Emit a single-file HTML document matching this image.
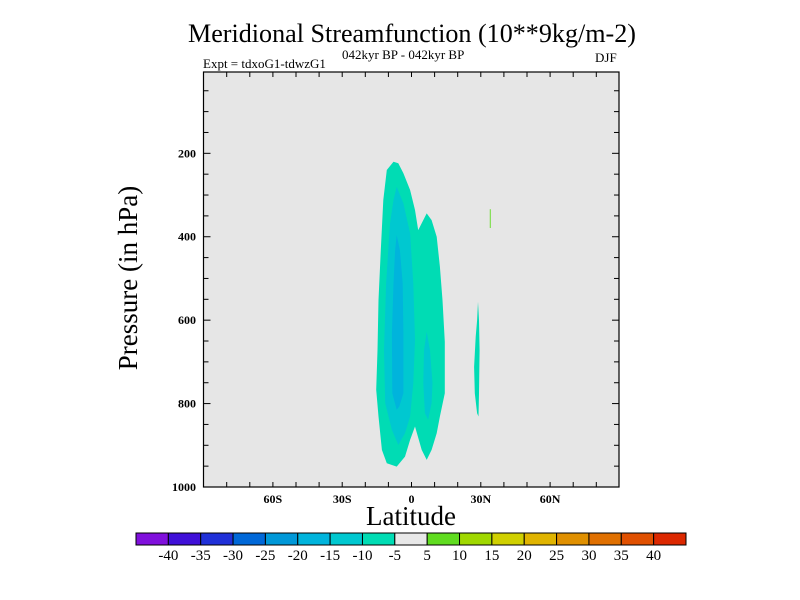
<!DOCTYPE html>
<html><head><meta charset="utf-8">
<style>
html,body{margin:0;padding:0;background:#fff;}
svg{display:block;font-family:"Liberation Serif",serif;}
</style></head>
<body>
<svg id="chart" width="800" height="600" viewBox="0 0 800 600" xmlns="http://www.w3.org/2000/svg">
<text x="412" y="42" text-anchor="middle" font-size="26" textLength="448" lengthAdjust="spacingAndGlyphs">Meridional Streamfunction (10**9kg/m-2)</text>
<text x="203" y="68" font-size="13">Expt = tdxoG1-tdwzG1</text>
<text x="342" y="59" font-size="13">042kyr BP - 042kyr BP</text>
<text x="595" y="62" font-size="13">DJF</text>
<rect x="203.5" y="72" width="415.5" height="415" fill="#e6e6e6"/>
<g id="contours"></g>
<g id="axes"></g>
<text transform="translate(137,278) rotate(-90)" text-anchor="middle" font-size="27">Pressure (in hPa)</text>
<text x="411" y="525" text-anchor="middle" font-size="27">Latitude</text>
<g id="colorbar"></g>
</svg>
<script>
const latTicks=[-60,-30,0,30,60];
const latTickLabels=["60S","30S","0","30N","60N"];
const presTicks=[200,400,600,800,1000];
const cbLevels=[-40,-35,-30,-25,-20,-15,-10,-5,5,10,15,20,25,30,35,40];
const cbColors=["#8010dc","#4010d8","#2030d8","#0068d8","#0098d8","#00b4dc","#00c8d0","#00dcb4","#e8e8e8","#60dc20","#a0d800","#d0d000","#e0b400","#e09000","#e07000","#e05000","#dc2800"];
// contour regions: [lat, pressure] pairs
const outerLat=[-7.8,-5.7,-3.5,-0.6,1.5,2.9,6.6,8.7,10.9,12.3,13.4,14.4,14.4,12.3,10.9,8.7,6.6,4.4,1.5,-0.6,-2.8,-6.4,-10.7,-12.8,-14.3,-15.3,-14.7,-14.3,-13.3,-12.2,-10.7];
const outerP=[220,224,248,288,336,384,344,360,400,472,552,652,775,831,871,911,935,911,855,887,927,951,943,911,831,767,672,552,432,312,240];
const midALat=[-6.4,-3.5,-0.6,0.8,1.5,0.8,-0.6,-2.8,-5.7,-8.5,-11.4,-11.9,-11.0,-9.3,-7.8];
const midAP=[280,320,392,512,648,751,831,871,899,863,799,672,512,368,312];
const midBLat=[6.6,8.0,9.1,8.7,7.2,5.8,5.1,5.4];
const midBP=[628,672,751,799,839,823,751,672];
const innerLat=[-6.4,-5.0,-3.8,-3.5,-3.5,-5.3,-6.4,-8.3,-8.5,-7.8,-7.1];
const innerP=[396,432,512,632,775,807,815,775,632,512,432];
const smallLat=[28.8,29.2,29.5,29.2,29.0,28.4,27.4,27.1,27.8,28.4];
const smallP=[556,600,672,775,831,823,775,712,640,600];
const greenLat=[33.9,34.3,34.3,33.9];
const greenP=[334,334,379,379];

const NS="http://www.w3.org/2000/svg";
const X0=203.5,X1=619,Y0=72,Y1=487;
function xOf(lat){return 411.5+lat*2.31;}
function yOf(p){return 487-(1000-p)*0.4171;}
function mk(tag,attrs,parent){const e=document.createElementNS(NS,tag);for(const k in attrs)e.setAttribute(k,attrs[k]);parent.appendChild(e);return e;}
const cont=document.getElementById('contours');
function poly(lats,ps,color,name){
  const pts=lats.map((l,i)=>xOf(l).toFixed(1)+","+yOf(ps[i]).toFixed(1)).join(" ");
  const e=mk('polygon',{points:pts,fill:color},cont);
  
  
}
poly(outerLat,outerP,"#00dcb4","contour-minus5");
poly(midALat,midAP,"#00c8d0","contour-minus10-a");
poly(midBLat,midBP,"#00c8d0","contour-minus10-b");
poly(innerLat,innerP,"#00b4dc","contour-minus15");
poly(smallLat,smallP,"#00dcb4","contour-minus5-30n");
poly(greenLat,greenP,"#60dc20","contour-plus5-34n");

const ax=document.getElementById('axes');
mk('rect',{x:X0,y:Y0,width:X1-X0,height:Y1-Y0,fill:"none",stroke:"#000","stroke-width":1.2},ax);
for(let lat=-80;lat<=80;lat+=10){
  const x=xOf(lat);
  const t=mk('line',{x1:x,x2:x,y1:Y1,y2:Y1-5,stroke:"#000"},ax);
  
  
  mk('line',{x1:x,x2:x,y1:Y0,y2:Y0+5,stroke:"#000"},ax);
}
latTicks.forEach((l,i)=>{
  const t=mk('text',{x:xOf(l),y:503,"text-anchor":"middle","font-size":12,"font-weight":"bold"},ax);
  t.textContent=latTickLabels[i];
  
  
});
for(let p=50;p<=1000;p+=50){
  const y=yOf(p);
  const major=p%200===0;
  const t=mk('line',{x1:X0,x2:X0+(major?7:5),y1:y,y2:y,stroke:"#000"},ax);
  
  
  mk('line',{x1:X1,x2:X1-(major?7:5),y1:y,y2:y,stroke:"#000"},ax);
}
presTicks.forEach(p=>{
  const t=mk('text',{x:196,y:yOf(p)+4,"text-anchor":"end","font-size":12,"font-weight":"bold"},ax);
  t.textContent=String(p);
  
  
});

const cb=document.getElementById('colorbar');
const CB0=136,CB1=686,cw=(CB1-CB0)/cbColors.length;
cbColors.forEach((c,i)=>{
  const r=mk('rect',{x:CB0+i*cw,y:533,width:cw,height:12,fill:c,stroke:"#000","stroke-width":1},cb);
  
  
});
cbLevels.forEach((v,i)=>{
  const t=mk('text',{x:CB0+(i+1)*cw,y:560,"text-anchor":"middle","font-size":15},cb);
  t.textContent=String(v);
  
  
});
</script>
</body></html>
